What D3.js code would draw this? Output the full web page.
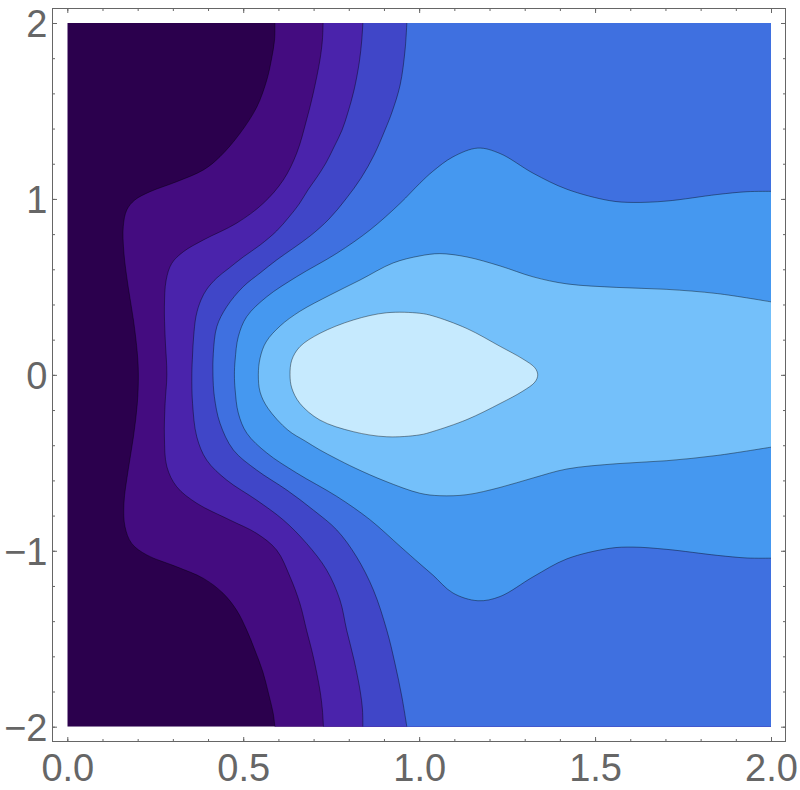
<!DOCTYPE html>
<html>
<head>
<meta charset="utf-8">
<script src="https://cdn.jsdelivr.net/npm/d3@7"></script>
<style>
  body { margin: 0; background: #fff; }
  svg { display: block; }
</style>
</head>
<body>
<div id="chart"></div>
<script>
// contour boundaries, [x, y] in data units
// c1..c4 run from top edge to bottom edge, c5/c6 start and end on the right edge, c7 is closed
var c1 = [[0.590,2.000],[0.589,1.904],[0.580,1.790],[0.567,1.676],[0.539,1.524],[0.491,1.373],[0.434,1.240],[0.387,1.165],[0.311,1.098],[0.235,1.041],[0.192,0.994],[0.169,0.937],[0.159,0.842],[0.161,0.691],[0.173,0.501],[0.188,0.312],[0.199,0.123],[0.202,0.000],[0.199,-0.162],[0.188,-0.352],[0.173,-0.541],[0.161,-0.730],[0.164,-0.863],[0.183,-0.958],[0.226,-1.024],[0.311,-1.091],[0.387,-1.157],[0.443,-1.242],[0.481,-1.337],[0.510,-1.451],[0.533,-1.564],[0.556,-1.689],[0.573,-1.820],[0.585,-1.922],[0.590,-2.000]];
var c2 = [[0.727,2.000],[0.725,1.904],[0.718,1.790],[0.699,1.601],[0.680,1.449],[0.652,1.260],[0.614,1.108],[0.557,0.975],[0.481,0.862],[0.387,0.767],[0.330,0.700],[0.297,0.634],[0.281,0.539],[0.276,0.387],[0.278,0.217],[0.283,0.000],[0.278,-0.162],[0.276,-0.352],[0.283,-0.522],[0.311,-0.636],[0.368,-0.730],[0.462,-0.825],[0.538,-0.901],[0.595,-0.996],[0.633,-1.148],[0.661,-1.299],[0.680,-1.451],[0.699,-1.601],[0.718,-1.792],[0.725,-1.905],[0.728,-2.000]];
var c3 = [[0.840,2.000],[0.837,1.904],[0.830,1.779],[0.815,1.619],[0.798,1.494],[0.781,1.392],[0.758,1.295],[0.735,1.204],[0.710,1.125],[0.684,1.051],[0.659,0.971],[0.630,0.897],[0.595,0.818],[0.548,0.738],[0.500,0.670],[0.460,0.607],[0.425,0.551],[0.397,0.488],[0.380,0.426],[0.366,0.335],[0.359,0.215],[0.356,0.113],[0.354,0.000],[0.356,-0.162],[0.368,-0.352],[0.396,-0.484],[0.453,-0.598],[0.538,-0.712],[0.614,-0.825],[0.680,-0.958],[0.737,-1.109],[0.775,-1.280],[0.794,-1.451],[0.815,-1.621],[0.832,-1.792],[0.839,-1.905],[0.840,-2.000]];
var c4 = [[0.965,2.000],[0.960,1.847],[0.946,1.648],[0.923,1.494],[0.903,1.392],[0.872,1.250],[0.835,1.119],[0.792,1.000],[0.744,0.886],[0.690,0.789],[0.639,0.715],[0.595,0.653],[0.548,0.579],[0.500,0.501],[0.453,0.387],[0.425,0.274],[0.415,0.123],[0.414,0.000],[0.418,-0.124],[0.434,-0.275],[0.472,-0.427],[0.538,-0.541],[0.624,-0.655],[0.699,-0.768],[0.766,-0.882],[0.822,-1.034],[0.870,-1.223],[0.908,-1.451],[0.931,-1.638],[0.951,-1.831],[0.965,-2.000]];
var c5 = [[2.000,1.043],[1.932,1.041],[1.847,1.025],[1.704,0.988],[1.608,0.980],[1.542,0.990],[1.420,1.055],[1.324,1.146],[1.230,1.258],[1.167,1.289],[1.096,1.239],[1.039,1.157],[1.002,1.089],[0.946,0.975],[0.860,0.823],[0.766,0.691],[0.652,0.558],[0.567,0.444],[0.510,0.331],[0.486,0.217],[0.477,0.084],[0.475,0.000],[0.477,-0.084],[0.486,-0.217],[0.510,-0.331],[0.567,-0.444],[0.652,-0.558],[0.766,-0.691],[0.860,-0.823],[0.946,-0.975],[1.002,-1.074],[1.039,-1.138],[1.096,-1.240],[1.167,-1.284],[1.230,-1.260],[1.324,-1.148],[1.420,-1.046],[1.542,-0.986],[1.608,-0.979],[1.704,-0.992],[1.847,-1.026],[1.932,-1.041],[2.000,-1.042]];
var c6 = [[2.000,0.415],[1.847,0.462],[1.704,0.486],[1.562,0.497],[1.420,0.517],[1.324,0.557],[1.230,0.619],[1.136,0.670],[1.059,0.689],[1.002,0.676],[0.926,0.636],[0.832,0.539],[0.747,0.454],[0.661,0.361],[0.605,0.278],[0.565,0.187],[0.548,0.096],[0.543,0.000],[0.548,-0.098],[0.570,-0.189],[0.627,-0.314],[0.676,-0.376],[0.718,-0.427],[0.761,-0.473],[0.818,-0.530],[0.903,-0.604],[1.002,-0.673],[1.059,-0.687],[1.136,-0.681],[1.230,-0.640],[1.324,-0.586],[1.420,-0.535],[1.562,-0.505],[1.704,-0.488],[1.847,-0.458],[2.000,-0.411]];
var c7 = [[0.633,0.000],[0.638,0.084],[0.661,0.160],[0.718,0.236],[0.813,0.312],[0.908,0.353],[1.002,0.350],[1.039,0.335],[1.136,0.263],[1.230,0.162],[1.295,0.090],[1.329,0.040],[1.337,0.000],[1.329,-0.041],[1.295,-0.092],[1.230,-0.163],[1.136,-0.254],[1.039,-0.322],[1.002,-0.341],[0.908,-0.352],[0.813,-0.323],[0.718,-0.257],[0.661,-0.162],[0.638,-0.075]];

// band fills, darkest (left) to lightest (inside c7)
var bandColors = ["#2b004d", "#440c80", "#4a23ab", "#4046c8", "#3f70e0", "#4598f0", "#74c0fa", "#c6eafe"];

var xTickVals = [0, 0.5, 1, 1.5, 2];
var xTickLabels = ["0.0", "0.5", "1.0", "1.5", "2.0"];
var yTickVals = [-2, -1, 0, 1, 2];
var yTickLabels = ["\u22122", "\u22121", "0", "1", "2"];

var width = 800, height = 790;
var frame = {left: 52.5, right: 785.5, top: 8.5, bottom: 741.5};
var grey = "#666";

var svg = d3.select("#chart").append("svg")
      .attr("width", width)
      .attr("height", height);

var x = d3.scaleLinear().domain([0, 2]).range([67.3, 771]);
var y = d3.scaleLinear().domain([-2, 2]).range([726.7, 23]);

svg.append("clipPath").attr("id", "plotclip")
  .append("rect")
    .attr("x", x(0)).attr("y", y(2))
    .attr("width", x(2) - x(0)).attr("height", y(-2) - y(2));

var plot = svg.append("g").attr("clip-path", "url(#plotclip)");

var curve = d3.line()
      .x(function(d) { return x(d[0]); })
      .y(function(d) { return y(d[1]); })
      .curve(d3.curveCatmullRom.alpha(0.5));
var loop = d3.line()
      .x(function(d) { return x(d[0]); })
      .y(function(d) { return y(d[1]); })
      .curve(d3.curveCatmullRomClosed.alpha(0.5));

// lowest band fills the whole plot, the others are painted on top
plot.append("rect")
    .attr("x", x(0)).attr("y", y(2))
    .attr("width", x(2) - x(0)).attr("height", y(-2) - y(2))
    .style("fill", bandColors[0]);

var leftCurves = [c1, c2, c3, c4];
leftCurves.forEach(function(c, i) {
  plot.append("path")
    .attr("d", curve(c) + "L" + x(2) + "," + y(-2) + "L" + x(2) + "," + y(2) + "Z")
    .style("fill", bandColors[i + 1]);
});
[c5, c6].forEach(function(c, i) {
  plot.append("path")
    .attr("d", curve(c) + "Z")
    .style("fill", bandColors[i + 5]);
});
plot.append("path")
    .attr("d", loop(c7))
    .style("fill", bandColors[7]);

// contour lines
[c1, c2, c3, c4, c5, c6].forEach(function(c) {
  plot.append("path")
    .attr("d", curve(c))
    .style("fill", "none")
    .style("stroke", "rgba(0,0,0,0.5)")
    .style("stroke-width", "0.8px");
});
plot.append("path")
    .attr("d", loop(c7))
    .style("fill", "none")
    .style("stroke", "rgba(0,0,0,0.5)")
    .style("stroke-width", "0.8px");

// frame with inward ticks on all four sides
var xMinor = d3.range(0, 2.0001, 0.1);
var yMinor = d3.range(-2, 2.0001, 0.2);

function styleAxis(g) {
  g.select(".domain").remove();
  g.selectAll("line").attr("stroke", grey);
  g.selectAll("text")
    .attr("fill", grey)
    .style("font-family", "'Liberation Sans', Arial, sans-serif")
    .style("font-size", "38px");
}

svg.append("g").attr("transform", "translate(" + frame.left + ",0)")
  .call(d3.axisLeft(y).tickValues(yMinor).tickFormat("").tickSize(-2.5)).call(styleAxis);
svg.append("g").attr("transform", "translate(" + frame.left + ",0)")
  .call(d3.axisLeft(y).tickValues(yTickVals)
        .tickFormat(function(d, i) { return yTickLabels[i]; })
        .tickSize(-4.5).tickPadding(5))
  .call(styleAxis)
  .selectAll("text").attr("dy", "0.36em");

svg.append("g").attr("transform", "translate(" + frame.right + ",0)")
  .call(d3.axisRight(y).tickValues(yMinor).tickFormat("").tickSize(-2.5)).call(styleAxis);
svg.append("g").attr("transform", "translate(" + frame.right + ",0)")
  .call(d3.axisRight(y).tickValues(yTickVals).tickFormat("").tickSize(-4.5)).call(styleAxis);

svg.append("g").attr("transform", "translate(0," + frame.bottom + ")")
  .call(d3.axisBottom(x).tickValues(xMinor).tickFormat("").tickSize(-2.5)).call(styleAxis);
svg.append("g").attr("transform", "translate(0," + frame.bottom + ")")
  .call(d3.axisBottom(x).tickValues(xTickVals)
        .tickFormat(function(d, i) { return xTickLabels[i]; })
        .tickSize(-4.5).tickPadding(12.5))
  .call(styleAxis);

svg.append("g").attr("transform", "translate(0," + frame.top + ")")
  .call(d3.axisTop(x).tickValues(xMinor).tickFormat("").tickSize(-2.5)).call(styleAxis);
svg.append("g").attr("transform", "translate(0," + frame.top + ")")
  .call(d3.axisTop(x).tickValues(xTickVals).tickFormat("").tickSize(-4.5)).call(styleAxis);

svg.append("rect")
    .attr("x", frame.left).attr("y", frame.top)
    .attr("width", frame.right - frame.left).attr("height", frame.bottom - frame.top)
    .style("fill", "none")
    .style("stroke", grey)
    .style("stroke-width", "1px");
</script>
</body>
</html>
